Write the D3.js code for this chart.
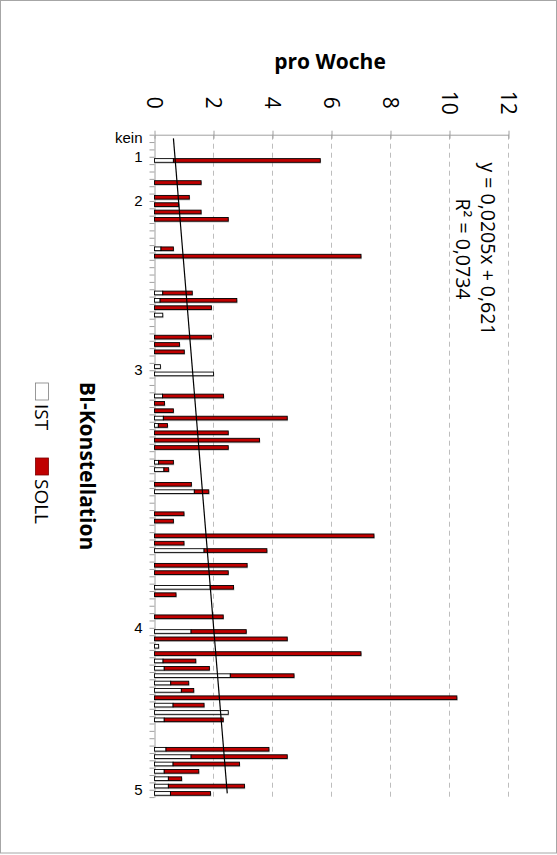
<!DOCTYPE html>
<html><head><meta charset="utf-8">
<script src="https://cdn.jsdelivr.net/npm/d3@7/dist/d3.min.js"></script>
<style>body{margin:0;background:#fff}svg{display:block}</style>
</head><body>
<svg id="c" width="557" height="855"></svg>
<script>
// ---------- data ----------
const categories = [
 "kein","","1","","","","","","2","","","","","","","","","","","",
 "","","","","","","","","","","","3","","","","","","","","",
 "","","","","","","","","","","","","","","","","","","","",
 "","","","","","","4","","","","","","","","","","","","","",
 "","","","","","","","","5",""];
const ist = [
 null,null,null,0.64,null,null,0,null,0,0,
 0,0,null,null,null,0.22,0,null,null,null,
 null,0.28,0.19,0,0.28,null,null,0,0,0,
 null,0.2,2.0,null,null,0.27,0,0,0.3,0.13,
 0,0,0,null,0.14,0.32,null,0,1.35,null,
 null,0,0,null,0,0,1.68,null,0,0,
 null,1.89,0,null,null,0,null,1.24,0,0.14,
 0,0.29,0.33,2.57,0.55,0.91,0,0.63,2.5,0.33,
 null,null,null,0.39,1.24,0.63,0.33,0.47,0.47,0.54];
const soll = [
 null,null,null,4.98,null,null,1.58,null,1.18,0.82,
 1.58,2.5,null,null,null,0.42,7.0,null,null,null,
 null,1.0,2.6,1.93,0,null,null,1.93,0.85,1.01,
 null,0,0,null,null,2.07,0.34,0.64,4.2,0.31,
 2.5,3.56,2.5,null,0.5,0.16,null,1.25,0.49,null,
 null,1.0,0.64,null,7.44,1.0,2.13,null,3.14,2.5,
 null,0.79,0.73,null,null,2.33,null,1.87,4.5,0,
 7.0,1.11,1.53,2.16,0.61,0.42,10.25,1.05,0,2.0,
 null,null,null,3.49,3.26,2.25,1.17,0.45,2.58,1.36];
const valueTicks = [0,2,4,6,8,10,12];
const seriesNames = ["IST","SOLL"];
const seriesColors = ["#FFFFFF","#C00000"];
const trendSlope = 0.0205, trendIntercept = 0.621;
const trendText = ["y = 0,0205x + 0,621","R\u00B2 = 0,0734"];
const valueTitle = "pro Woche";
const legendTitle = "BI-Konstellation";

// ---------- drawing ----------
const svg = d3.select("#c");
const FONT = "'Open Sans', 'Liberation Sans', sans-serif";
const x = d3.scaleLinear().domain([0,12]).range([154.5,508.5]);
const y = d3.scaleBand().domain(d3.range(categories.length)).range([134.7,797.1]).paddingInner(0.5).paddingOuter(0.25);
const yLin = d3.scaleLinear().domain([0,categories.length]).range([134.7,797.1]);

// frame
svg.append("rect").attr("x",0.5).attr("y",0.5).attr("width",556).attr("height",852.5)
  .attr("fill","#fff").attr("stroke","#A6A6A6").attr("stroke-width",1);

// gridlines
svg.append("g").selectAll("line").data(valueTicks.filter(v=>v>0)).join("line")
  .attr("x1",d=>x(d)).attr("x2",d=>x(d)).attr("y1",yLin(0)).attr("y2",yLin(categories.length))
  .attr("stroke","#BDBDBD").attr("stroke-width",1).attr("stroke-dasharray","5,4");

// value axis (top)
const ax = svg.append("g").attr("transform",`translate(0,${yLin(0)})`)
  .call(d3.axisTop(x).tickValues(valueTicks).tickSize(4).tickSizeOuter(0).tickFormat(d3.format("d")));
ax.select(".domain").attr("stroke","#A0A0A0");
ax.selectAll(".tick line").attr("stroke","#A0A0A0").attr("y1",4).attr("y2",-4);
ax.selectAll(".tick text").attr("font-family",FONT).attr("font-size",21).attr("fill","#000")
  .attr("text-anchor","middle").attr("dominant-baseline","central")
  .attr("transform","translate(0,-32) rotate(90)").attr("x",0).attr("y",0).attr("dy",null);

// category axis (left)
const cy = svg.append("g").attr("transform",`translate(${x(0)},0)`)
  .call(d3.axisLeft(yLin).tickValues(d3.range(categories.length+1)).tickSize(5).tickSizeOuter(0).tickFormat(""));
cy.select(".domain").attr("stroke","#A0A0A0");
cy.selectAll(".tick line").attr("stroke","#A0A0A0");
svg.append("g").selectAll("text").data(categories.map((c,i)=>({c,i})).filter(d=>d.c!=="")).join("text")
  .attr("x",x(0)-12).attr("y",d=>y(d.i)+y.bandwidth()/2+(d.i===0?-0.6:3))
  .attr("text-anchor","end").attr("dominant-baseline","central")
  .attr("font-family","'Liberation Sans', Arial, sans-serif").attr("font-size",15).attr("fill","#000").text(d=>d.c);

// bars
const rows = categories.map((c,i)=>({i, a: ist[i], b: soll[i]})).filter(d=>d.a!==null);
const bars = svg.append("g");
bars.selectAll("rect.sh").data(rows).join("rect").attr("class","sh")
  .attr("x",x(0)+0.8).attr("y",d=>y(d.i)+1.3)
  .attr("width",d=>x(d.a+d.b)-x(0)).attr("height",y.bandwidth())
  .attr("fill","#8c8c8c").attr("opacity",0.55);
bars.selectAll("rect.ist").data(rows.filter(d=>d.a>0)).join("rect").attr("class","ist")
  .attr("x",x(0)).attr("y",d=>y(d.i)).attr("width",d=>x(d.a)-x(0)).attr("height",y.bandwidth())
  .attr("fill",seriesColors[0]).attr("stroke","#000").attr("stroke-width",0.9);
bars.selectAll("rect.soll").data(rows.filter(d=>d.b>0)).join("rect").attr("class","soll")
  .attr("x",d=>x(d.a)).attr("y",d=>y(d.i)).attr("width",d=>x(d.a+d.b)-x(d.a)).attr("height",y.bandwidth())
  .attr("fill",seriesColors[1]).attr("stroke","#000").attr("stroke-width",0.9);

// trendline
const tIdx = [0, categories.length-1];
svg.append("path").datum(tIdx)
  .attr("d", d3.line().x(k=>x(trendSlope*(k+1)+trendIntercept)).y(k=>y(k)+y.bandwidth()/2))
  .attr("stroke","#000").attr("stroke-width",1.2).attr("fill","none");

// trend label (rotated)
svg.append("g").selectAll("text").data(trendText).join("text")
  .attr("transform",(d,i)=>`translate(${488-25*i},249) rotate(90)`)
  .attr("text-anchor","middle").attr("dominant-baseline","central")
  .attr("font-family",FONT).attr("font-size",19.5).attr("fill","#000").text(d=>d);

// value axis title
svg.append("text").attr("x",330).attr("y",61).attr("text-anchor","middle").attr("dominant-baseline","central")
  .attr("font-family",FONT).attr("font-weight","bold").attr("font-size",21).text(valueTitle);

// legend (rotated)
svg.append("text").attr("transform","translate(88,466) rotate(90)")
  .attr("text-anchor","middle").attr("dominant-baseline","central")
  .attr("font-family",FONT).attr("font-weight","bold").attr("font-size",21).text(legendTitle);
const lg = svg.append("g").attr("transform","translate(42,383) rotate(90)");
const legendX = [0, 75];
seriesNames.forEach((n,i)=>{
  lg.append("rect").attr("x",legendX[i]).attr("y",-6.5).attr("width",17).attr("height",13)
    .attr("fill",seriesColors[i]).attr("stroke",i?"#7a0000":"#7f7f7f").attr("stroke-width",0.8);
  lg.append("text").attr("x",legendX[i]+21).attr("y",0).attr("dominant-baseline","central")
    .attr("font-family",FONT).attr("font-size",19).text(n);
});
</script>
</body></html>
